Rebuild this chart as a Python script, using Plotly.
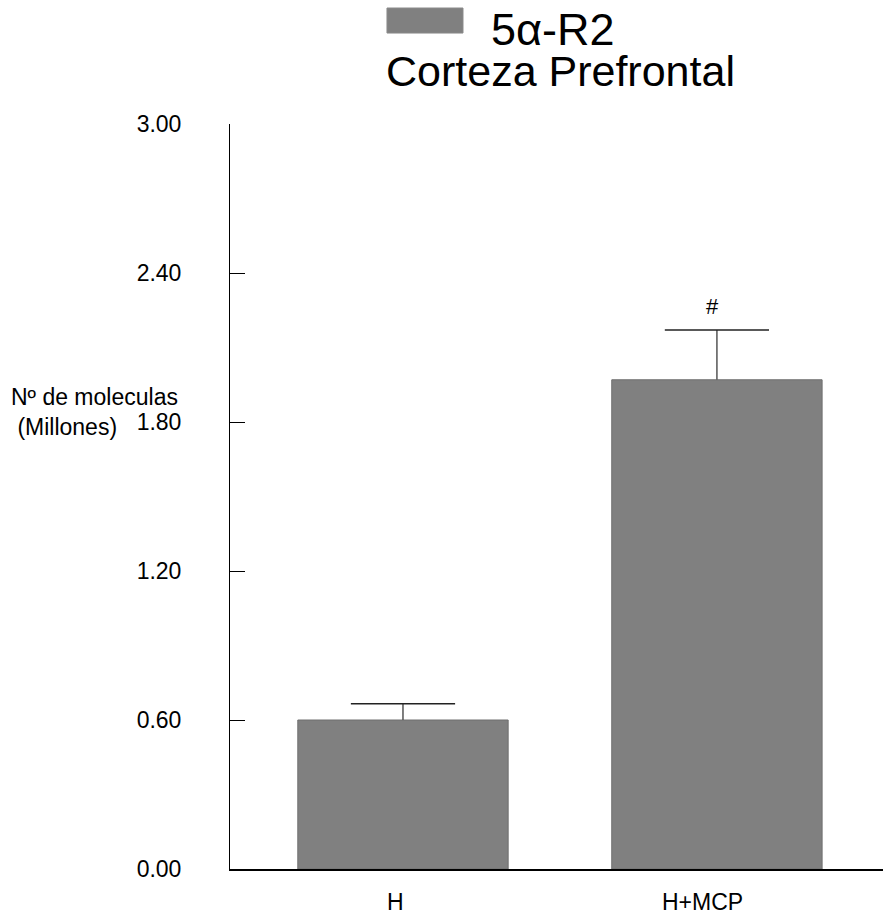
import plotly.graph_objects as go

# Data
groups = ["H", "H+MCP"]
means = [0.60, 1.97]
sem = [0.065, 0.20]
y_ticks = [0.0, 0.6, 1.2, 1.8, 2.4, 3.0]
marker_label = "#"
series_name = "5α-R2"
region_name = "Corteza Prefrontal"

FONT = "Liberation Sans, Arial, Helvetica, sans-serif"
BAR_GRAY = "#808080"
CAP_HALF = 0.166  # half-width of the error caps, in category units
LABEL_SHIFT = [-7, -14]  # small horizontal nudge of the group labels, px

x_pos = list(range(len(groups)))

fig = go.Figure()
fig.add_trace(go.Bar(
    x=x_pos,
    y=means,
    width=0.67,
    marker=dict(color=BAR_GRAY, line=dict(color="#6f6f6f", width=1)),
    showlegend=False,
))

# upper-only error bars: a gray stem and a black cap per group
for xi, m, e in zip(x_pos, means, sem):
    fig.add_trace(go.Scatter(x=[xi, xi], y=[m, m + e], mode="lines",
                             line=dict(color="#555555", width=1.5),
                             showlegend=False, hoverinfo="skip"))
    fig.add_trace(go.Scatter(x=[xi - CAP_HALF, xi + CAP_HALF], y=[m + e, m + e],
                             mode="lines", line=dict(color="#222222", width=1.5),
                             showlegend=False, hoverinfo="skip"))

# group labels under the x axis
for xi, lab, dx in zip(x_pos, groups, LABEL_SHIFT):
    fig.add_annotation(x=xi, xref="x", y=0, yref="paper", yanchor="top",
                       yshift=-18, xshift=dx, text=lab, showarrow=False,
                       font=dict(family=FONT, size=23, color="black"))

# significance mark above the H+MCP error bar
fig.add_annotation(x=x_pos[1], y=means[1] + sem[1], text=marker_label,
                   showarrow=False, yanchor="bottom", yshift=9, xshift=-4,
                   font=dict(family=FONT, size=22, color="black"))

# legend swatch and heading
fig.add_shape(type="rect", xref="paper", yref="paper",
              x0=0.2404, x1=0.3568, y0=1.1221, y1=1.1557,
              fillcolor=BAR_GRAY, line=dict(color="#8a8a8a", width=1))
fig.add_annotation(xref="paper", yref="paper", x=0.396, y=1.127,
                   xanchor="left", yanchor="middle", showarrow=False,
                   text=series_name, font=dict(family=FONT, size=45, color="black"))
fig.add_annotation(xref="paper", yref="paper", x=0.2365, y=1.071,
                   xanchor="left", yanchor="middle", showarrow=False,
                   text=region_name, font=dict(family=FONT, size=43, color="black"))

# y-axis title, placed left of the tick labels
fig.add_annotation(xref="paper", yref="paper", x=-0.339, y=0.614,
                   xanchor="left", yanchor="middle", showarrow=False, align="left",
                   text="Nº de moleculas<br> (Millones)",
                   font=dict(family=FONT, size=23, color="black"))

fig.update_layout(
    width=883, height=914,
    margin=dict(l=230, r=0, t=124, b=45),
    paper_bgcolor="white", plot_bgcolor="white",
    font=dict(family=FONT, size=23, color="black"),
)
fig.update_xaxes(
    range=[-0.551, 1.529],
    showticklabels=False,
    showline=True, linecolor="black", linewidth=1.5,
    ticks="", showgrid=False, zeroline=False,
)
fig.update_yaxes(
    range=[0, 3.0],
    tickvals=y_ticks, tickformat=".2f",
    showline=True, linecolor="black", linewidth=1,
    ticks="inside", ticklen=15, tickcolor="black", tickwidth=1,
    ticklabelstandoff=43,
    showgrid=False, zeroline=False,
    tickfont=dict(family=FONT, size=23),
)

fig.write_html("out.html")
